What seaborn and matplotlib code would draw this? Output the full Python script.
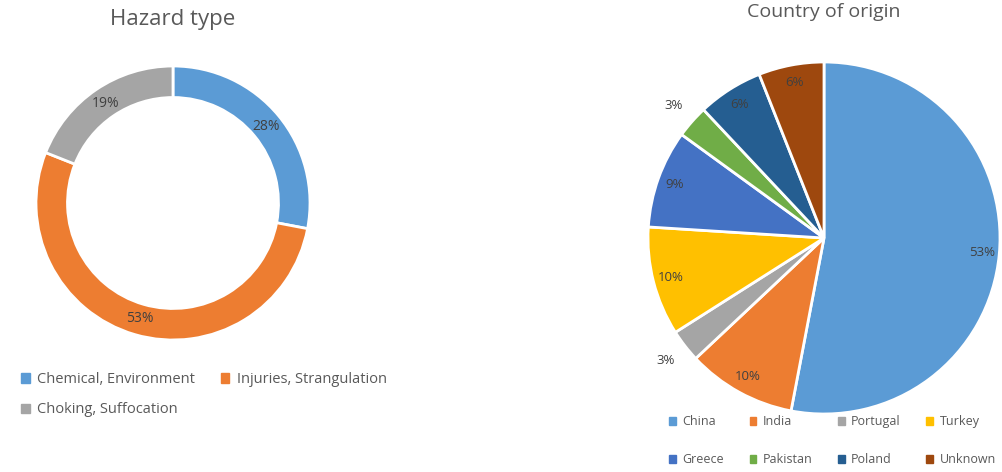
import numpy as np
import matplotlib
matplotlib.use("Agg")
import matplotlib.pyplot as plt
import seaborn as sns
from matplotlib.patches import Patch

sns.set_theme(style="white")
plt.rcParams['font.family'] = ['Open Sans', 'DejaVu Sans']

# ---- data ----
hazard_labels = ["Chemical, Environment", "Injuries, Strangulation", "Choking, Suffocation"]
hazard_values = [28, 53, 19]
country_labels = ["China", "India", "Portugal", "Turkey", "Greece", "Pakistan", "Poland", "Unknown"]
country_values = [53, 10, 3, 10, 9, 3, 6, 6]

hazard_colors = ["#5B9BD5", "#ED7D31", "#A5A5A5"]
country_colors = ["#5B9BD5", "#ED7D31", "#A5A5A5", "#FFC000", "#4472C4", "#70AD47", "#255E91", "#9E480E"]
text_color = "#595959"

W, H = 1003, 472
fig = plt.figure(figsize=(W / 100, H / 100), dpi=100)

def axes_at(cx, cy, r):
    return fig.add_axes([(cx - r) / W, 1 - (cy + r) / H, 2 * r / W, 2 * r / H])

def pct(p):
    return f"{int(round(p))}%"

def row_major(items, ncol):
    nrow = int(np.ceil(len(items) / ncol))
    out = []
    for c in range(ncol):
        for r in range(nrow):
            i = r * ncol + c
            if i < len(items):
                out.append(items[i])
    return out

# ---- donut ----
ax1 = axes_at(173, 203, 137)
wedges, texts, autotexts = ax1.pie(
    hazard_values, colors=hazard_colors, startangle=90, counterclock=False,
    radius=1, autopct=pct, pctdistance=0.88,
    wedgeprops=dict(width=0.23, edgecolor="white", linewidth=2),
    textprops=dict(color="#404040", fontsize=10))
ax1.set_xlim(-1, 1); ax1.set_ylim(-1, 1); ax1.set_aspect("auto")
ax1.axis("off")
fig.text(173 / W, 1 - 20 / H, "Hazard type", ha="center", va="center", fontsize=16, color=text_color)

h1 = [Patch(color=c, label=l) for c, l in zip(hazard_colors, hazard_labels)]
fig.legend(handles=row_major(h1, 2),
           loc="upper left", bbox_to_anchor=(8 / W, 1 - 359 / H), ncol=2, frameon=False,
           fontsize=10.5, labelcolor=text_color, handlelength=0.6, handleheight=0.6,
           handletextpad=0.5, columnspacing=1.75, labelspacing=1.05)

# ---- pie ----
ax2 = axes_at(824, 238, 176)
wedges2, texts2, autotexts2 = ax2.pie(
    country_values, colors=country_colors, startangle=90, counterclock=False,
    radius=1, autopct=pct, pctdistance=0.9,
    wedgeprops=dict(edgecolor="white", linewidth=2),
    textprops=dict(color="#404040", fontsize=9.5))
for w, t, v in zip(wedges2, autotexts2, country_values):
    if v <= 3:
        ang = np.deg2rad((w.theta1 + w.theta2) / 2)
        t.set_position((1.14 * np.cos(ang), 1.14 * np.sin(ang)))
ax2.set_xlim(-1, 1); ax2.set_ylim(-1, 1); ax2.set_aspect("auto")
ax2.axis("off")
fig.text(824 / W, 1 - 12 / H, "Country of origin", ha="center", va="center", fontsize=14, color=text_color)

h2 = [Patch(color=c, label=l) for c, l in zip(country_colors, country_labels)]
fig.legend(handles=row_major(h2, 4),
           loc="upper left", bbox_to_anchor=(658 / W, 1 - 404 / H), ncol=4, frameon=False,
           fontsize=9, labelcolor=text_color, handlelength=0.55, handleheight=0.55,
           handletextpad=0.5, columnspacing=2.05, labelspacing=2.0)

fig.savefig("out.png", dpi=100, facecolor="white")
